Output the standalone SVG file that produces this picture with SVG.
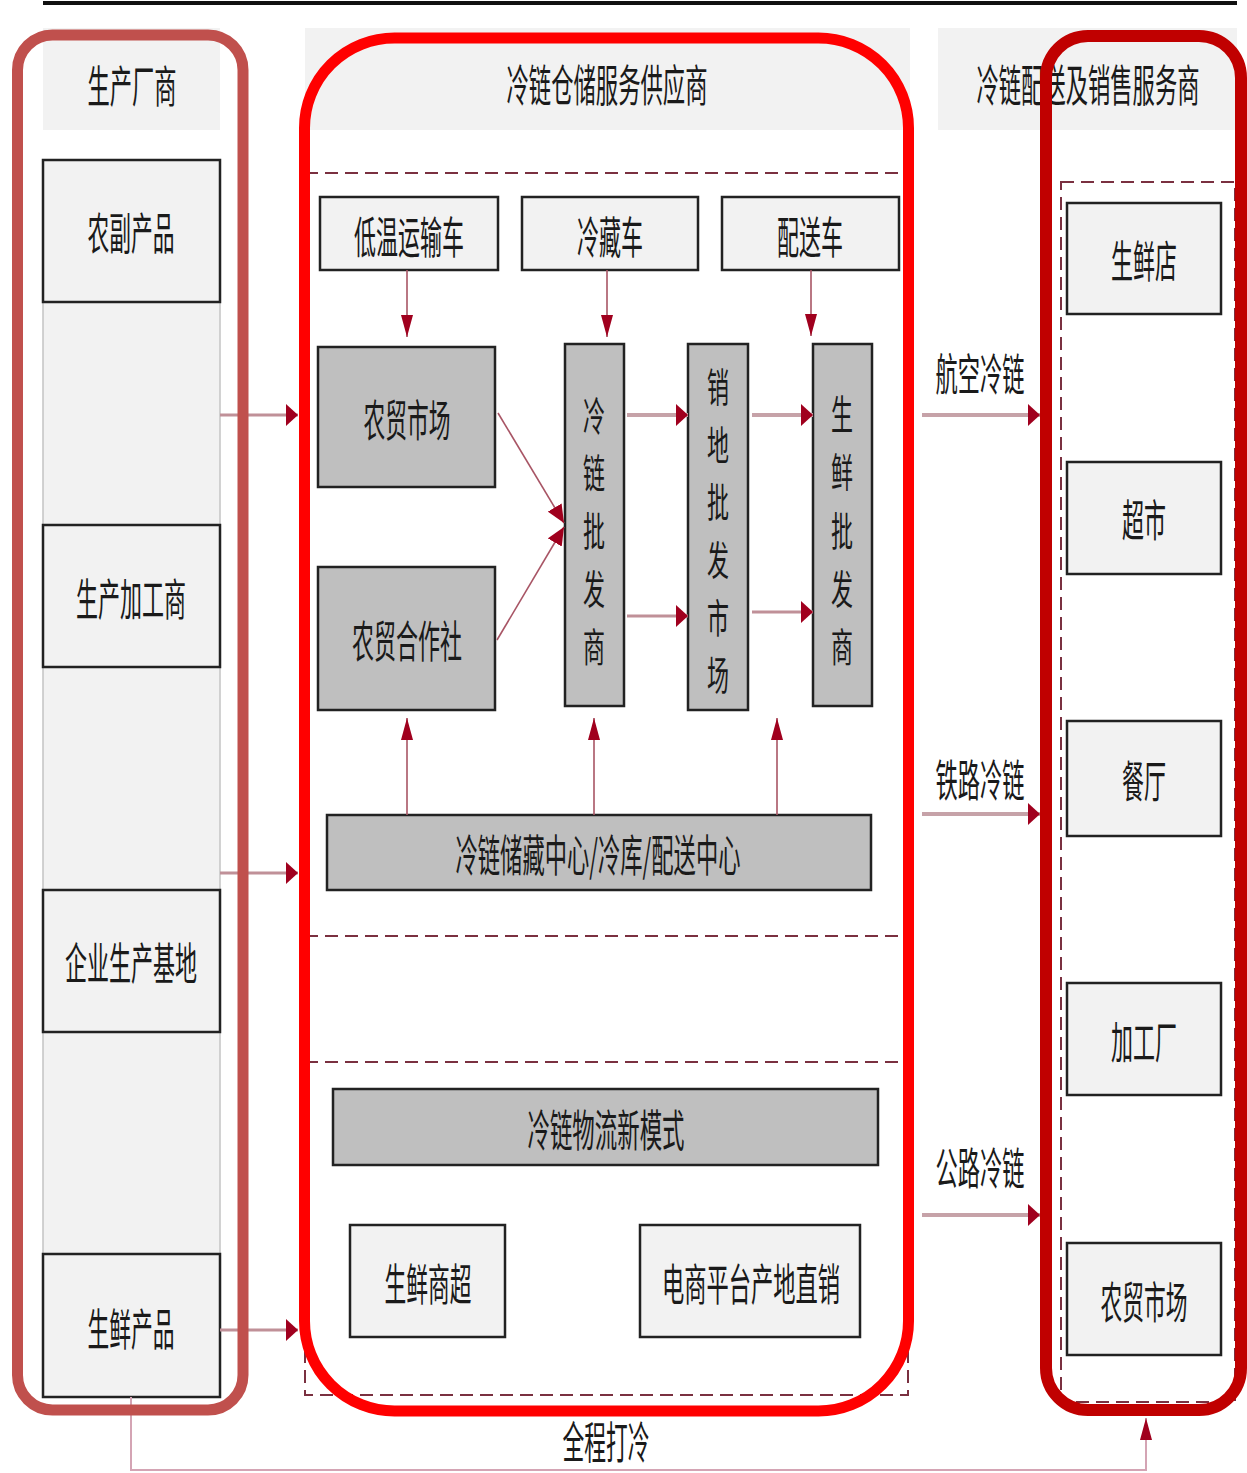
<svg xmlns="http://www.w3.org/2000/svg" width="1247" height="1473" viewBox="0 0 1247 1473">
<style>
.t{font-family:"Noto Sans CJK SC","Noto Sans",sans-serif;font-size:44px;fill:#1a1a1a;text-anchor:middle;dominant-baseline:central;}
.v{font-size:40px;}
.lb{fill:#f2f2f2;stroke:#222;stroke-width:2.5;}
.db{fill:#bfbfbf;stroke:#222;stroke-width:2.5;}
.dash{fill:none;stroke:#7a3040;stroke-width:2;stroke-dasharray:13 7;}
.thin{fill:none;stroke:#a85565;stroke-width:1.6;}
.thick{fill:none;stroke:#c6a2a8;stroke-width:4;}
.mid{fill:none;stroke:#c09098;stroke-width:3;}
</style>
<defs>
<marker id="ah" viewBox="0 0 12 22" markerWidth="12" markerHeight="22" refX="12" refY="11" orient="auto" markerUnits="userSpaceOnUse"><path d="M0,0 L12,11 L0,22 z" fill="#a0001e"/></marker>
<marker id="av" viewBox="0 0 22 12" markerWidth="22" markerHeight="12" refX="22" refY="6" orient="auto" markerUnits="userSpaceOnUse"><path d="M0,0 L22,6 L0,12 z" fill="#a0001e"/></marker>
<marker id="ad" viewBox="0 0 18 16" markerWidth="18" markerHeight="16" refX="18" refY="8" orient="auto" markerUnits="userSpaceOnUse"><path d="M0,0 L18,8 L0,16 z" fill="#a0001e"/></marker>
</defs>
<rect width="1247" height="1473" fill="#ffffff"/>
<line x1="43" y1="3" x2="1237" y2="3" stroke="#111" stroke-width="4"/>

<g id="panels">
<rect x="43" y="28" width="177" height="102" fill="#f2f2f2"/>
<rect x="305" y="28" width="605" height="102" fill="#f2f2f2"/>
<rect x="938" y="28" width="299" height="102" fill="#f2f2f2"/>
<rect x="43" y="160" width="177" height="1237" fill="#f2f2f2" stroke="#c4c4c4" stroke-width="1.5"/>
<rect class="dash" x="305" y="173" width="603" height="1222"/>
<line class="dash" x1="305" y1="936" x2="908" y2="936"/>
<line class="dash" x1="305" y1="1062" x2="908" y2="1062"/>
<rect class="dash" x="1061" y="182" width="174" height="1220"/>
</g>

<g id="headers">
<text class="t" x="132" y="84" textLength="89" lengthAdjust="spacingAndGlyphs">生产厂商</text>
<text class="t" x="607" y="83" textLength="201" lengthAdjust="spacingAndGlyphs">冷链仓储服务供应商</text>
<text class="t" x="1088" y="83" textLength="223" lengthAdjust="spacingAndGlyphs">冷链配送及销售服务商</text>
</g>

<g id="n-nongfu"><rect class="lb" x="43" y="160" width="177" height="142"/><text class="t" x="131" y="231" textLength="87" lengthAdjust="spacingAndGlyphs">农副产品</text></g>
<g id="n-jiagongshang"><rect class="lb" x="43" y="525" width="177" height="142"/><text class="t" x="131" y="597" textLength="110" lengthAdjust="spacingAndGlyphs">生产加工商</text></g>
<g id="n-jidi"><rect class="lb" x="43" y="890" width="177" height="142"/><text class="t" x="131" y="961" textLength="132" lengthAdjust="spacingAndGlyphs">企业生产基地</text></g>
<g id="n-shengxian"><rect class="lb" x="43" y="1254" width="177" height="143"/><text class="t" x="131" y="1327" textLength="87" lengthAdjust="spacingAndGlyphs">生鲜产品</text></g>

<g id="n-diwen"><rect class="lb" x="320" y="197" width="178" height="73"/><text class="t" x="409" y="235" textLength="110" lengthAdjust="spacingAndGlyphs">低温运输车</text></g>
<g id="n-lengcang"><rect class="lb" x="522" y="197" width="176" height="73"/><text class="t" x="610" y="235" textLength="66" lengthAdjust="spacingAndGlyphs">冷藏车</text></g>
<g id="n-peisong"><rect class="lb" x="722" y="197" width="177" height="73"/><text class="t" x="810" y="235" textLength="66" lengthAdjust="spacingAndGlyphs">配送车</text></g>
<g id="n-nongmao"><rect class="db" x="318" y="347" width="177" height="140"/><text class="t" x="407" y="418" textLength="87" lengthAdjust="spacingAndGlyphs">农贸市场</text></g>
<g id="n-hezuoshe"><rect class="db" x="318" y="567" width="177" height="143"/><text class="t" x="407" y="639" textLength="110" lengthAdjust="spacingAndGlyphs">农贸合作社</text></g>
<g id="n-lenglian-pifa"><rect class="db" x="565" y="344" width="59" height="362"/>
<text class="t v" x="594" y="414" textLength="22" lengthAdjust="spacingAndGlyphs">冷</text>
<text class="t v" x="594" y="471" textLength="22" lengthAdjust="spacingAndGlyphs">链</text>
<text class="t v" x="594" y="529" textLength="22" lengthAdjust="spacingAndGlyphs">批</text>
<text class="t v" x="594" y="587" textLength="22" lengthAdjust="spacingAndGlyphs">发</text>
<text class="t v" x="594" y="645" textLength="22" lengthAdjust="spacingAndGlyphs">商</text></g>
<g id="n-xiaodi"><rect class="db" x="688" y="344" width="60" height="366"/>
<text class="t v" x="718" y="385" textLength="22" lengthAdjust="spacingAndGlyphs">销</text>
<text class="t v" x="718" y="443" textLength="22" lengthAdjust="spacingAndGlyphs">地</text>
<text class="t v" x="718" y="500" textLength="22" lengthAdjust="spacingAndGlyphs">批</text>
<text class="t v" x="718" y="558" textLength="22" lengthAdjust="spacingAndGlyphs">发</text>
<text class="t v" x="718" y="616" textLength="22" lengthAdjust="spacingAndGlyphs">市</text>
<text class="t v" x="718" y="673" textLength="22" lengthAdjust="spacingAndGlyphs">场</text></g>
<g id="n-shengxian-pifa"><rect class="db" x="813" y="344" width="59" height="362"/>
<text class="t v" x="842" y="412" textLength="22" lengthAdjust="spacingAndGlyphs">生</text>
<text class="t v" x="842" y="470" textLength="22" lengthAdjust="spacingAndGlyphs">鲜</text>
<text class="t v" x="842" y="529" textLength="22" lengthAdjust="spacingAndGlyphs">批</text>
<text class="t v" x="842" y="587" textLength="22" lengthAdjust="spacingAndGlyphs">发</text>
<text class="t v" x="842" y="645" textLength="22" lengthAdjust="spacingAndGlyphs">商</text></g>
<g id="n-chucang"><rect class="db" x="327" y="815" width="544" height="75"/><text class="t" x="598" y="853" textLength="285" lengthAdjust="spacingAndGlyphs">冷链储藏中心/冷库/配送中心</text></g>
<g id="n-xinmoshi"><rect class="db" x="333" y="1089" width="545" height="76"/><text class="t" x="606" y="1128" textLength="157" lengthAdjust="spacingAndGlyphs">冷链物流新模式</text></g>
<g id="n-shangchao"><rect class="lb" x="350" y="1225" width="155" height="112"/><text class="t" x="428" y="1282" textLength="87" lengthAdjust="spacingAndGlyphs">生鲜商超</text></g>
<g id="n-dianshang"><rect class="lb" x="640" y="1225" width="220" height="112"/><text class="t" x="751" y="1282" textLength="178" lengthAdjust="spacingAndGlyphs">电商平台产地直销</text></g>

<g id="n-shengxiandian"><rect class="lb" x="1067" y="203" width="154" height="111"/><text class="t" x="1144" y="259" textLength="66" lengthAdjust="spacingAndGlyphs">生鲜店</text></g>
<g id="n-chaoshi"><rect class="lb" x="1067" y="462" width="154" height="112"/><text class="t" x="1144" y="518" textLength="44" lengthAdjust="spacingAndGlyphs">超市</text></g>
<g id="n-canting"><rect class="lb" x="1067" y="721" width="154" height="115"/><text class="t" x="1144" y="779" textLength="44" lengthAdjust="spacingAndGlyphs">餐厅</text></g>
<g id="n-jiagongchang"><rect class="lb" x="1067" y="983" width="154" height="112"/><text class="t" x="1144" y="1040" textLength="66" lengthAdjust="spacingAndGlyphs">加工厂</text></g>
<g id="n-nongmao-r"><rect class="lb" x="1067" y="1243" width="154" height="112"/><text class="t" x="1144" y="1300" textLength="87" lengthAdjust="spacingAndGlyphs">农贸市场</text></g>

<g id="connectors">
<line class="mid" x1="220" y1="415" x2="298" y2="415" marker-end="url(#ah)"/>
<line class="mid" x1="220" y1="873" x2="298" y2="873" marker-end="url(#ah)"/>
<line class="mid" x1="220" y1="1330" x2="298" y2="1330" marker-end="url(#ah)"/>
<line class="thin" x1="407" y1="270" x2="407" y2="337" marker-end="url(#av)"/>
<line class="thin" x1="607" y1="270" x2="607" y2="337" marker-end="url(#av)"/>
<line class="thin" x1="811" y1="270" x2="811" y2="336" marker-end="url(#av)"/>
<line class="thin" x1="498" y1="413" x2="564" y2="523" marker-end="url(#ad)"/>
<line class="thin" x1="497" y1="640" x2="564" y2="527" marker-end="url(#ad)"/>
<line class="thick" x1="627" y1="415" x2="688" y2="415" marker-end="url(#ah)"/>
<line class="mid" x1="627" y1="616" x2="688" y2="616" marker-end="url(#ah)"/>
<line class="thick" x1="752" y1="415" x2="813" y2="415" marker-end="url(#ah)"/>
<line class="mid" x1="752" y1="612" x2="813" y2="612" marker-end="url(#ah)"/>
<line class="thin" x1="407" y1="815" x2="407" y2="718" marker-end="url(#av)"/>
<line class="thin" x1="594" y1="815" x2="594" y2="718" marker-end="url(#av)"/>
<line class="thin" x1="777" y1="815" x2="777" y2="718" marker-end="url(#av)"/>
<line class="thick" x1="922" y1="415" x2="1040" y2="415" marker-end="url(#ah)"/>
<line class="thick" x1="922" y1="814" x2="1040" y2="814" marker-end="url(#ah)"/>
<line class="thick" x1="922" y1="1215" x2="1040" y2="1215" marker-end="url(#ah)"/>
<polyline fill="none" stroke="#d4a4b4" stroke-width="2" points="131,1397 131,1470 1146,1470 1146,1418" marker-end="url(#av)"/>
</g>

<g id="labels">
<text class="t" x="980" y="372" textLength="89" lengthAdjust="spacingAndGlyphs">航空冷链</text>
<text class="t" x="980" y="778" textLength="89" lengthAdjust="spacingAndGlyphs">铁路冷链</text>
<text class="t" x="980" y="1166" textLength="89" lengthAdjust="spacingAndGlyphs">公路冷链</text>
<text class="t" x="606" y="1440" textLength="87" lengthAdjust="spacingAndGlyphs">全程打冷</text>
</g>

<g id="frames" fill="none">
<rect x="17.5" y="35" width="225.5" height="1375" rx="35" stroke="#c0504d" stroke-width="11"/>
<rect x="304.5" y="38" width="604" height="1373" rx="90" stroke="#ff0000" stroke-width="11"/>
<rect x="1046" y="36" width="195" height="1374" rx="42" stroke="#c00000" stroke-width="12"/>
</g>
</svg>
